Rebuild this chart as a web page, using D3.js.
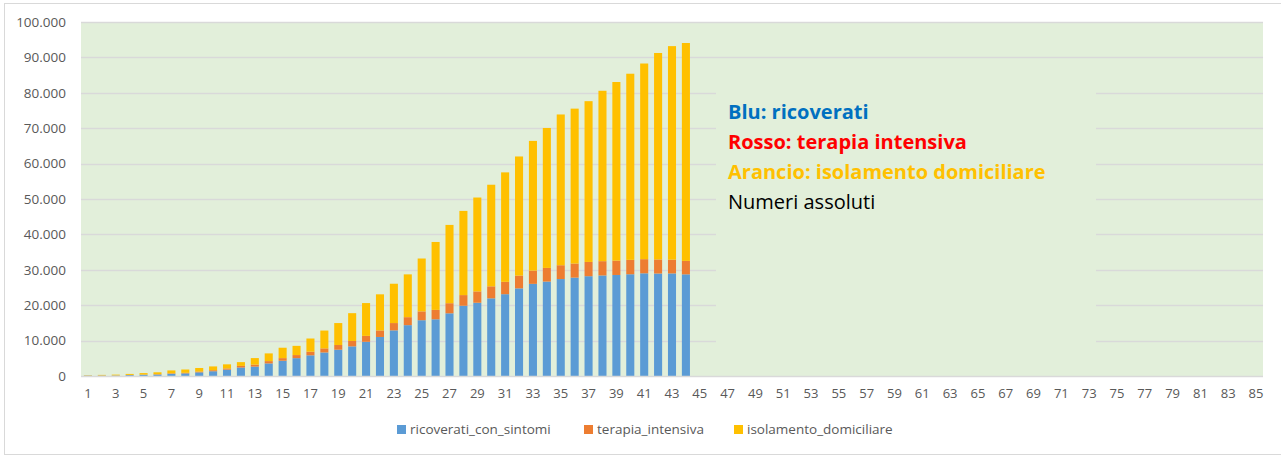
<!DOCTYPE html>
<html>
<head>
<meta charset="utf-8">
<script src="https://cdn.jsdelivr.net/npm/d3@7"></script>
<style>
    body { margin: 0; background: #fff; }
    svg { display: block; font-family: "Open Sans", "Noto Sans", sans-serif; }
</style>
</head>
<body>
<svg id="chart"></svg>
<script>
// Days 1..85 on the x axis, data only for the first 44
const days = d3.range(1, 86);

// ricoverati_con_sintomi - blue
const ricoverati = [101, 114, 128, 248, 345, 401, 639, 742, 1034, 1346, 1790, 2394, 2651, 3557, 4316,
    5038, 5838, 6650, 7426, 8372, 9663, 11025, 12894, 14363, 15757, 16020, 17708, 19846, 20692, 21937,
    23112, 24753, 26029, 26676, 27386, 27795, 28192, 28403, 28540, 28741, 29010, 28949, 28976, 28718];
// terapia_intensiva - orange
const terapia = [26, 35, 36, 56, 64, 105, 140, 166, 229, 295, 351, 462, 567, 650, 733,
    877, 1028, 1153, 1328, 1518, 1672, 1851, 2060, 2257, 2498, 2655, 2857, 3009, 3204, 3396,
    3489, 3612, 3732, 3856, 3906, 3981, 4023, 4035, 4053, 4068, 3994, 3977, 3898, 3792];
// isolamento_domiciliare - yellow
const isolamento = [94, 162, 221, 284, 412, 543, 798, 927, 1000, 1065, 1155, 1060, 1843, 2180, 2936,
    2599, 3724, 5036, 6201, 7860, 9268, 10197, 11108, 12090, 14935, 19185, 22116, 23783, 26522, 28697,
    30920, 33648, 36653, 39533, 42588, 43752, 45420, 48134, 50456, 52579, 55270, 58320, 60313, 61557];

const seriesKeys = ["ricoverati_con_sintomi", "terapia_intensiva", "isolamento_domiciliare"];
const seriesColors = ["#5B9BD5", "#ED7D31", "#FFC000"];

const yTicks = [0, 10000, 20000, 30000, 40000, 50000, 60000, 70000, 80000, 90000, 100000];

const noteLines = [
    { text: "Blu: ricoverati", color: "#0070C0", weight: "bold" },
    { text: "Rosso: terapia intensiva", color: "#FF0000", weight: "bold" },
    { text: "Arancio: isolamento domiciliare", color: "#FFC000", weight: "bold" },
    { text: "Numeri assoluti", color: "#000000", weight: "normal" }
];

// Configuration
const width = 1281;
const height = 456;
const plot = { left: 81, top: 22, right: 1263, bottom: 376 };
const textColor = "#595959";

function drawChart() {
    const svg = d3.select("#chart")
        .attr("width", width)
        .attr("height", height);

    // outer chart border
    svg.append("rect")
        .attr("x", 4.5)
        .attr("y", 3.5)
        .attr("width", width + 2)
        .attr("height", 451)
        .attr("fill", "#fff")
        .attr("stroke", "#D9D9D9");

    // build table for the stack
    const table = ricoverati.map((v, i) => ({
        day: days[i],
        ricoverati_con_sintomi: v,
        terapia_intensiva: terapia[i],
        isolamento_domiciliare: isolamento[i]
    }));

    const x = d3.scaleBand()
        .domain(days)
        .range([plot.left, plot.right])
        .paddingInner(0.42)
        .paddingOuter(0.21);

    const y = d3.scaleLinear()
        .domain([0, 100000])
        .range([plot.bottom, plot.top]);

    const color = d3.scaleOrdinal()
        .domain(seriesKeys)
        .range(seriesColors);

    // plot area background
    svg.append("rect")
        .attr("x", plot.left)
        .attr("y", plot.top)
        .attr("width", plot.right - plot.left)
        .attr("height", plot.bottom - plot.top)
        .attr("fill", "#E2EFDA");

    // gridlines
    svg.append("g")
        .selectAll("line")
        .data(yTicks.slice(1))
        .join("line")
        .attr("x1", plot.left)
        .attr("x2", plot.right)
        .attr("y1", d => Math.round(y(d)) + 0.5)
        .attr("y2", d => Math.round(y(d)) + 0.5)
        .attr("stroke", "#D9D9D9")
        .attr("stroke-width", 1.5);

    // text box (same fill, hides gridlines behind it)
    svg.append("rect")
        .attr("x", 716)
        .attr("y", 75)
        .attr("width", 380)
        .attr("height", 285)
        .attr("fill", "#E2EFDA");

    // stacked bars
    const stacked = d3.stack().keys(seriesKeys)(table);

    svg.append("g")
        .selectAll("g")
        .data(stacked)
        .join("g")
        .attr("fill", d => color(d.key))
        .selectAll("rect")
        .data(d => d)
        .join("rect")
        .attr("x", d => x(d.data.day))
        .attr("y", d => y(d[1]))
        .attr("width", x.bandwidth())
        .attr("height", d => y(d[0]) - y(d[1]));

    // x axis line
    svg.append("line")
        .attr("x1", plot.left)
        .attr("x2", plot.right)
        .attr("y1", plot.bottom + 0.5)
        .attr("y2", plot.bottom + 0.5)
        .attr("stroke", "#D9D9D9")
        .attr("stroke-width", 1.5);

    // y axis labels
    const yAxis = svg.append("g")
        .attr("transform", `translate(${plot.left - 15},0)`)
        .call(d3.axisLeft(y)
            .tickValues(yTicks)
            .tickSize(0)
            .tickPadding(0)
            .tickFormat(d => d3.format(",")(d).replace(/,/g, ".")));
    yAxis.select(".domain").remove();
    yAxis.selectAll("text")
        .attr("font-size", 13.5)
        .attr("font-family", "Open Sans")
        .attr("fill", textColor);

    // x axis labels, every other day
    const xAxis = svg.append("g")
        .attr("transform", `translate(0,${plot.bottom})`)
        .call(d3.axisBottom(x)
            .tickValues(days.filter(d => d % 2 === 1))
            .tickSize(0)
            .tickPadding(13));
    xAxis.select(".domain").remove();
    xAxis.selectAll("text")
        .attr("font-size", 13)
        .attr("font-family", "Open Sans")
        .attr("fill", textColor);

    // note text in the box
    svg.append("g")
        .selectAll("text")
        .data(noteLines)
        .join("text")
        .attr("x", 728)
        .attr("y", (d, i) => 119 + i * 30)
        .attr("font-size", 20)
        .attr("font-weight", d => d.weight)
        .attr("fill", d => d.color)
        .text(d => d.text);

    // legend
    const legendX = [397, 584, 734];
    const legend = svg.append("g")
        .selectAll("g")
        .data(seriesKeys)
        .join("g")
        .attr("transform", (d, i) => `translate(${legendX[i]},430)`);

    legend.append("rect")
        .attr("x", 0)
        .attr("y", -5)
        .attr("width", 9)
        .attr("height", 9)
        .attr("fill", d => color(d));

    legend.append("text")
        .attr("x", 13)
        .attr("y", 0)
        .attr("dominant-baseline", "middle")
        .attr("font-size", 13.5)
        .attr("fill", textColor)
        .text(d => d);
}

drawChart();
</script>
</body>
</html>
